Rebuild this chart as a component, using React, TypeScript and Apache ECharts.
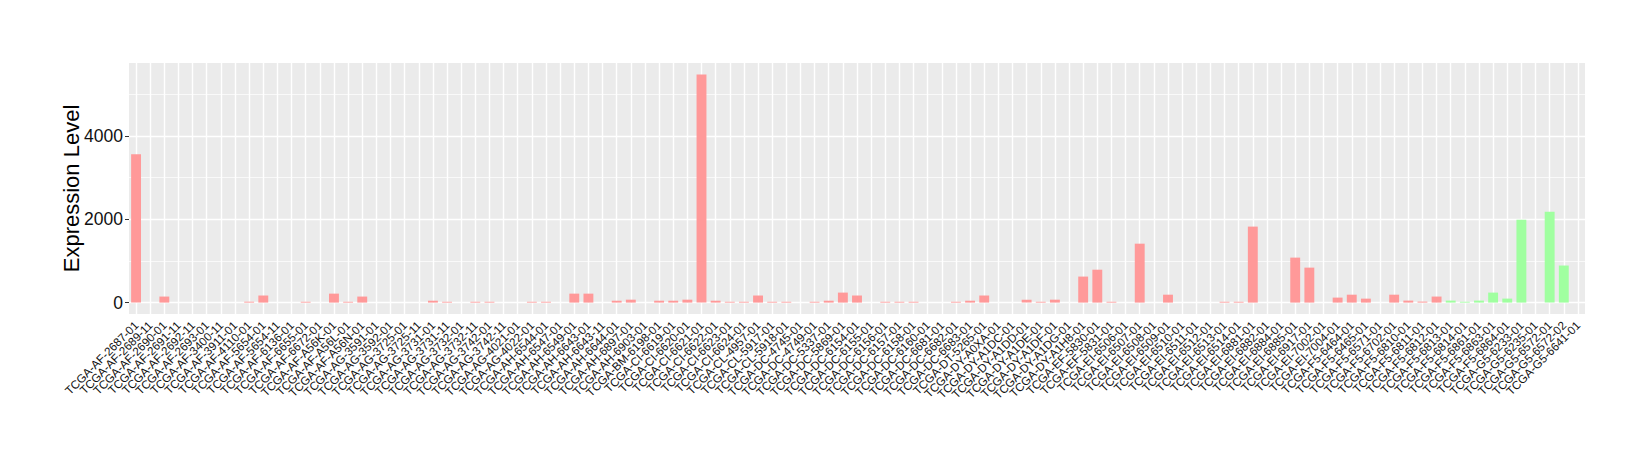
import React, { useEffect, useRef } from "react";
import * as echarts from "echarts";

const categories: string[] = [
  "TCGA-AF-2687-01", "TCGA-AF-2689-11", "TCGA-AF-2690-01", "TCGA-AF-2691-11", "TCGA-AF-2692-11",
  "TCGA-AF-2693-01", "TCGA-AF-3400-11", "TCGA-AF-3911-01", "TCGA-AF-4110-01", "TCGA-AF-5654-01",
  "TCGA-AF-5654-11", "TCGA-AF-6136-01", "TCGA-AF-6655-01", "TCGA-AF-6672-01", "TCGA-AF-A56K-01",
  "TCGA-AF-A56L-01", "TCGA-AF-A56N-01", "TCGA-AG-3591-01", "TCGA-AG-3592-01", "TCGA-AG-3725-01",
  "TCGA-AG-3725-11", "TCGA-AG-3731-01", "TCGA-AG-3731-11", "TCGA-AG-3732-01", "TCGA-AG-3732-11",
  "TCGA-AG-3742-01", "TCGA-AG-3742-11", "TCGA-AG-4021-01", "TCGA-AG-4022-01", "TCGA-AH-6544-01",
  "TCGA-AH-6547-01", "TCGA-AH-6549-01", "TCGA-AH-6643-01", "TCGA-AH-6643-11", "TCGA-AH-6644-01",
  "TCGA-AH-6897-01", "TCGA-AH-6903-01", "TCGA-BM-6198-01", "TCGA-CI-6619-01", "TCGA-CI-6620-01",
  "TCGA-CI-6621-01", "TCGA-CI-6622-01", "TCGA-CI-6623-01", "TCGA-CI-6624-01", "TCGA-CL-4957-01",
  "TCGA-CL-5917-01", "TCGA-CL-5918-01", "TCGA-DC-4745-01", "TCGA-DC-4749-01", "TCGA-DC-5337-01",
  "TCGA-DC-5869-01", "TCGA-DC-6154-01", "TCGA-DC-6155-01", "TCGA-DC-6156-01", "TCGA-DC-6157-01",
  "TCGA-DC-6158-01", "TCGA-DC-6160-01", "TCGA-DC-6681-01", "TCGA-DC-6682-01", "TCGA-DC-6683-01",
  "TCGA-DT-5265-01", "TCGA-DY-A0XA-01", "TCGA-DY-A1DC-01", "TCGA-DY-A1DD-01", "TCGA-DY-A1DE-01",
  "TCGA-DY-A1DF-01", "TCGA-DY-A1DG-01", "TCGA-DY-A1H8-01", "TCGA-EF-5830-01", "TCGA-EF-5831-01",
  "TCGA-EI-6506-01", "TCGA-EI-6507-01", "TCGA-EI-6508-01", "TCGA-EI-6509-01", "TCGA-EI-6510-01",
  "TCGA-EI-6511-01", "TCGA-EI-6512-01", "TCGA-EI-6513-01", "TCGA-EI-6514-01", "TCGA-EI-6881-01",
  "TCGA-EI-6882-01", "TCGA-EI-6884-01", "TCGA-EI-6885-01", "TCGA-EI-6917-01", "TCGA-EI-7002-01",
  "TCGA-EI-7004-01", "TCGA-F5-6464-01", "TCGA-F5-6465-01", "TCGA-F5-6571-01", "TCGA-F5-6702-01",
  "TCGA-F5-6810-01", "TCGA-F5-6811-01", "TCGA-F5-6812-01", "TCGA-F5-6813-01", "TCGA-F5-6814-01",
  "TCGA-F5-6861-01", "TCGA-F5-6863-01", "TCGA-F5-6864-01", "TCGA-G5-6233-01", "TCGA-G5-6235-01",
  "TCGA-G5-6572-01", "TCGA-G5-6572-02", "TCGA-G5-6641-01",
];

const expressionValues: number[] = [
  3565, 0, 145, 0, 0,
  0, 0, 0, 22, 170,
  0, 0, 20, 0, 215,
  20, 145, 0, 0, 0,
  0, 45, 20, 0, 20,
  20, 0, 0, 20, 20,
  0, 215, 215, 0, 45,
  70, 0, 45, 45, 70,
  5480, 45, 20, 20, 170,
  20, 20, 0, 20, 45,
  240, 170, 0, 20, 20,
  20, 0, 0, 20, 45,
  170, 0, 0, 70, 20,
  70, 0, 625, 790, 20,
  0, 1415, 0, 190, 0,
  0, 0, 20, 20, 1825,
  0, 0, 1080, 840, 0,
  120, 190, 95, 0, 190,
  48, 24, 145, 48, 20,
  48, 240, 96, 1990, 0,
  2180, 890, 0,
];

// group of each sample: "A" (red) or "B" (green)
const sampleGroups: string[] = categories.map((_, i) => (i >= 93 ? "B" : "A"));

const yTickLabels: number[] = [0, 2000, 4000];
const yMajorGrid: number[] = [0, 2000, 4000];
const yMinorGrid: number[] = [1000, 3000, 5000];
const yMin = -274;
const yMax = 5754;

const COLOR_A = "#FF9999";
const COLOR_B = "#A0FFA0";
const FONT = "'Liberation Sans', Arial, Helvetica, sans-serif";

export default function App() {
  const ref = useRef<HTMLDivElement | null>(null);

  useEffect(() => {
    if (!ref.current) return;
    const chart = echarts.init(ref.current, undefined, { renderer: "svg" });

    const gridLineData: any[] = [];
    yMajorGrid.forEach((v) =>
      gridLineData.push({ yAxis: v, lineStyle: { color: "#FFFFFF", width: 1.4, type: "solid" } })
    );
    yMinorGrid.forEach((v) =>
      gridLineData.push({ yAxis: v, lineStyle: { color: "#FFFFFF", width: 0.7, type: "solid" } })
    );
    categories.forEach((c) =>
      gridLineData.push({ xAxis: c, lineStyle: { color: "#FFFFFF", width: 1.4, type: "solid" } })
    );

    chart.setOption({
      animation: false,
      backgroundColor: "#FFFFFF",
      grid: {
        left: 129,
        right: 63,
        top: 63,
        bottom: 150,
        show: true,
        backgroundColor: "#EBEBEB",
        borderWidth: 0,
      },
      xAxis: {
        type: "category",
        data: categories,
        boundaryGap: true,
        axisLine: { show: false },
        axisTick: { show: true, alignWithLabel: true, length: 4, lineStyle: { color: "#333333", width: 1 } },
        axisLabel: {
          interval: 0,
          rotate: 45,
          fontSize: 11.7,
          fontFamily: FONT,
          color: "#111111",
          margin: 9,
        },
        splitLine: { show: false },
      },
      yAxis: {
        type: "value",
        min: yMin,
        max: yMax,
        axisLine: { show: false },
        axisTick: {
          show: true,
          length: 4,
          customValues: yTickLabels,
          lineStyle: { color: "#333333", width: 1 },
        },
        axisLabel: {
          customValues: yTickLabels,
          formatter: (v: number) => String(v),
          fontSize: 17.5,
          fontFamily: FONT,
          color: "#111111",
          margin: 6,
        },
        splitLine: { show: false },
        name: "Expression Level",
        nameLocation: "middle",
        nameMoveOverlap: false,
        nameGap: 47,
        nameTextStyle: { fontSize: 22, fontFamily: FONT, color: "#000000" },
      },
      series: [
        {
          type: "line",
          data: [],
          z: 1,
          silent: true,
          markLine: {
            z: 1,
            silent: true,
            symbol: ["none", "none"],
            label: { show: false },
            emphasis: { disabled: true },
            animation: false,
            data: gridLineData,
          },
        },
        {
          type: "bar",
          z: 3,
          barWidth: "70%",
          data: expressionValues.map((v, i) => ({
            value: v,
            itemStyle: { color: sampleGroups[i] === "B" ? COLOR_B : COLOR_A },
          })),
        },
      ],
    });

    return () => {
      chart.dispose();
    };
  }, []);

  return (
    <div
      ref={ref}
      style={{ position: "absolute", left: 0, top: 0, width: 1648, height: 464 }}
    />
  );
}
